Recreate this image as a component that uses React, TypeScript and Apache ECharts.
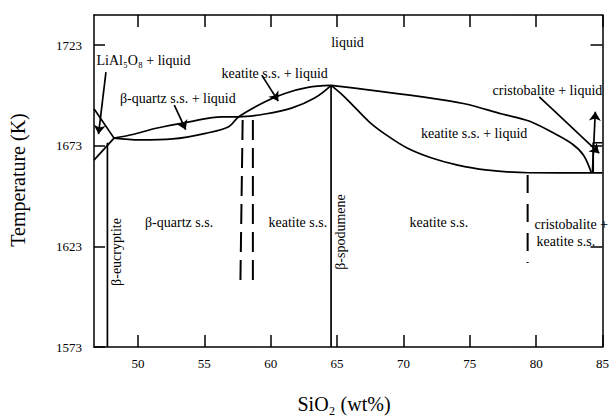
import React, { useEffect, useRef } from "react";
import * as echarts from "echarts";

// Axis ranges and ticks
const X_MIN = 46.69;
const X_MAX = 85;
const Y_MIN = 1573;
const Y_MAX = 1738;
const xTicks = [50, 55, 60, 65, 70, 75, 80, 85];
const yTicks = [1573, 1623, 1673, 1723];

// Phase boundaries (SiO2 wt%, K)
const leftUpper = [[46.69, 1691.4], [48.2, 1676.8]];
const leftLower = [[46.69, 1665.9], [48.2, 1676.8]];
// β-quartz liquidus continuing into keatite solidus
const curveA = [
  [48.2, 1676.8], [49.6, 1678.6], [51.37, 1681.7], [53.86, 1684.9], [56.34, 1687.4],
  [57.59, 1687.4], [59.58, 1688.8], [61.57, 1691.7], [63.31, 1696.7], [64.55, 1703.0],
];
// β-quartz solidus continuing into keatite liquidus
const curveB = [
  [48.2, 1676.8], [50.13, 1675.9], [52.61, 1676.4], [55.1, 1679.2], [56.84, 1682.5],
  [57.59, 1687.4], [59.58, 1694.9], [61.07, 1699.0], [62.81, 1702.0], [64.55, 1703.0],
];
const rightUpper = [
  [64.55, 1703.0], [67.49, 1700.7], [71.02, 1697.7], [74.51, 1694.0], [77.44, 1688.8],
  [79.46, 1685.3], [81.17, 1679.8], [82.72, 1673.9], [83.56, 1668.4], [84.16, 1659.5],
];
const rightLower = [
  [64.55, 1703.0], [65.42, 1698.2], [66.25, 1692.7], [67.44, 1684.8], [68.73, 1678.3],
  [70.28, 1671.9], [72.14, 1666.9], [74.01, 1663.5], [76.19, 1661.0], [79.43, 1659.6],
  [84.16, 1659.5], [85, 1659.5],
];
const boxLine = [[84.3, 1659.5], [84.3, 1674.5], [85, 1674.5]];
const eucryptite = [[47.7, 1573], [47.7, 1674.5]];
const spodumene = [[64.55, 1573], [64.55, 1703.0]];
const dashLeft = [[57.89, 1685.8], [57.72, 1605.5]];
const dashMid = [[58.66, 1685.8], [58.66, 1605.5]];
const dashRight = [[79.36, 1658.5], [79.36, 1614.8]];
const arrows = [
  [[47.59, 1709.6], [47.03, 1678.8]],
  [[52.74, 1693.2], [53.6, 1681.0]],
  [[59.33, 1708.1], [60.57, 1695.2]],
  [[80.24, 1697.3], [84.75, 1669.3]],
  [[84.24, 1660.0], [84.46, 1689.9]],
];

const FONT = '"Liberation Serif", "Times New Roman", serif';

const labels = [
  { text: "liquid", x: 347.5, y: 42, align: "center" },
  { text: "LiAl₅O₈ + liquid", x: 96.5, y: 60, align: "left" },
  { text: "β-quartz s.s. + liquid", x: 120, y: 98, align: "left" },
  { text: "keatite s.s. + liquid", x: 221.5, y: 73, align: "left" },
  { text: "cristobalite + liquid", x: 492.5, y: 90.5, align: "left" },
  { text: "keatite s.s. + liquid", x: 421, y: 133, align: "left" },
  { text: "β-quartz s.s.", x: 145, y: 222, align: "left" },
  { text: "keatite s.s.", x: 268.5, y: 222, align: "left" },
  { text: "keatite s.s.", x: 409.5, y: 222, align: "left" },
  { text: "cristobalite +", x: 534.5, y: 224.5, align: "left" },
  { text: "keatite s.s.", x: 536.5, y: 241.5, align: "left" },
];
const rotatedLabels = [
  { text: "β-eucryptite", x: 116, y: 252 },
  { text: "β-spodumene", x: 340, y: 232 },
];

export default function App() {
  const ref = useRef<HTMLDivElement>(null);
  useEffect(() => {
    if (!ref.current) return;
    const chart = echarts.init(ref.current, undefined, { renderer: "svg" });
    const solid = (data: number[][], w = 1.7) => ({
      type: "line",
      data,
      smooth: 0.35,
      symbol: "none",
      lineStyle: { color: "#000", width: w },
      silent: true,
    });
    const dashed = (data: number[][], dash: number[]) => ({
      type: "line",
      data,
      symbol: "none",
      lineStyle: { color: "#000", width: 2, type: dash },
      silent: true,
    });
    const axisCommon = {
      type: "value",
      splitLine: { show: false },
      axisLine: { show: true, onZero: false, lineStyle: { color: "#000", width: 1.5 } },
    };
    const fmt = (v: number) => String(v);
    const option: any = {
      animation: false,
      backgroundColor: "#fff",
      grid: { left: 94, right: 3, top: 15, bottom: 69, containLabel: false },
      xAxis: [
        {
          ...axisCommon,
          min: X_MIN,
          max: X_MAX,
          position: "bottom",
          axisTick: { show: true, inside: true, length: 12, customValues: xTicks, lineStyle: { color: "#000", width: 1.5 } },
          axisLabel: { customValues: xTicks, formatter: fmt, color: "#000", fontFamily: FONT, fontSize: 13, margin: 10 },
        },
        {
          ...axisCommon,
          min: X_MIN,
          max: X_MAX,
          position: "top",
          axisTick: { show: true, inside: true, length: 12, customValues: xTicks, lineStyle: { color: "#000", width: 1.5 } },
          axisLabel: { show: false },
        },
      ],
      yAxis: [
        {
          ...axisCommon,
          min: Y_MIN,
          max: Y_MAX,
          position: "left",
          axisTick: { show: true, inside: true, length: 11, customValues: yTicks, lineStyle: { color: "#000", width: 1.5 } },
          axisLabel: { customValues: yTicks, formatter: fmt, color: "#000", fontFamily: FONT, fontSize: 13, margin: 12 },
        },
        {
          ...axisCommon,
          min: Y_MIN,
          max: Y_MAX,
          position: "right",
          axisTick: { show: true, inside: true, length: 12, customValues: [1623, 1673, 1723], lineStyle: { color: "#000", width: 1.5 } },
          axisLabel: { show: false },
        },
      ],
      series: [
        solid(leftUpper),
        solid(leftLower),
        solid(curveA),
        solid(curveB),
        solid(rightUpper),
        solid(rightLower),
        { ...solid(boxLine), smooth: false },
        { ...solid(eucryptite), smooth: false },
        { ...solid(spodumene), smooth: false },
        dashed(dashLeft, [20, 8]),
        dashed(dashMid, [20, 8]),
        dashed(dashRight, [18, 11]),
        {
          type: "lines",
          coordinateSystem: "cartesian2d",
          symbol: ["none", "arrow"],
          symbolSize: 9,
          lineStyle: { color: "#000", width: 1.7, opacity: 1 },
          data: arrows.map((c) => ({ coords: c })),
          silent: true,
        },
      ],
      graphic: [
        ...labels.map((l) => ({
          type: "text",
          x: l.x,
          y: l.y,
          z: 100,
          style: { text: l.text, fill: "#000", fontFamily: FONT, fontSize: 14, align: l.align, verticalAlign: "middle" },
        })),
        ...rotatedLabels.map((l) => ({
          type: "text",
          x: l.x,
          y: l.y,
          rotation: Math.PI / 2,
          z: 100,
          style: { text: l.text, fill: "#000", fontFamily: FONT, fontSize: 14, align: "center", verticalAlign: "middle" },
        })),
        {
          type: "text",
          x: 18,
          y: 180,
          rotation: Math.PI / 2,
          style: { text: "Temperature (K)", fill: "#000", fontFamily: FONT, fontSize: 20, align: "center", verticalAlign: "middle" },
        },
        {
          type: "text",
          x: 344,
          y: 404,
          style: { text: "SiO₂ (wt%)", fill: "#000", fontFamily: FONT, fontSize: 20, align: "center", verticalAlign: "middle" },
        },
      ],
    };
    chart.setOption(option);
    return () => chart.dispose();
  }, []);
  return <div ref={ref} style={{ width: 612, height: 416, position: "absolute", left: 0, top: 0 }} />;
}
